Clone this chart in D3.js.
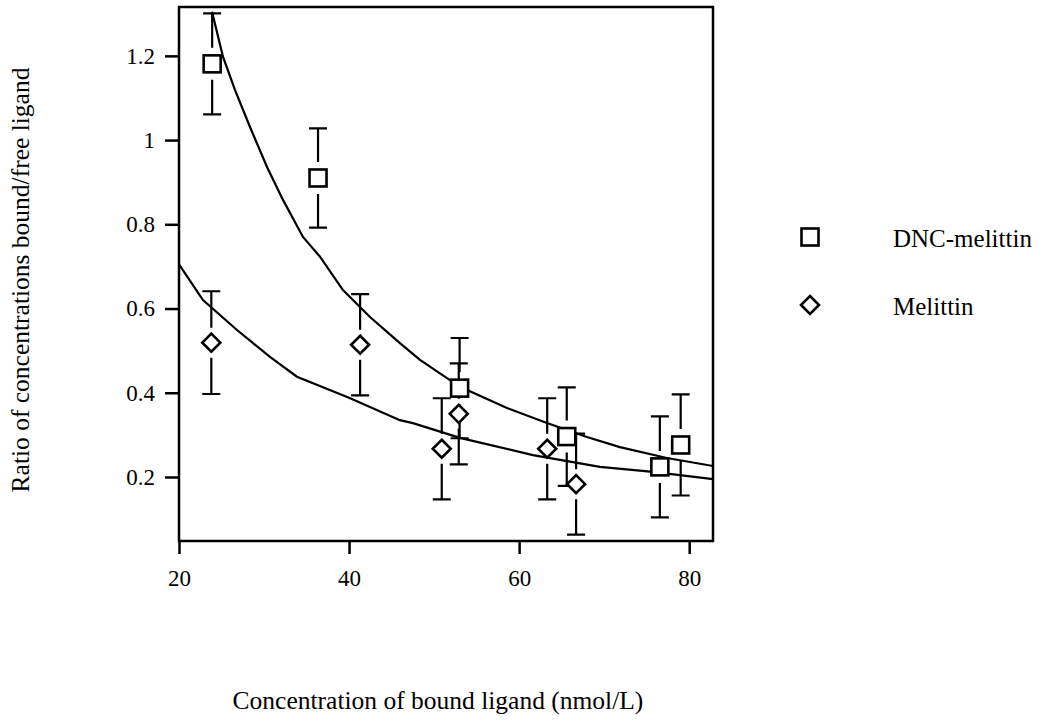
<!DOCTYPE html>
<html>
<head>
<meta charset="utf-8">
<script src="https://cdn.jsdelivr.net/npm/d3@7"></script>
<style>
  body { margin: 0; background: #fff; }
  svg text { font-family: "Liberation Serif", "DejaVu Serif", serif; fill: #000; }
</style>
</head>
<body>
<div class="chart"></div>
<script>
let dncX = [23.9, 36.35, 53.0, 65.6, 76.55, 79.0]
let dncY = [1.181, 0.910, 0.411, 0.296, 0.224, 0.276]
let dncErr = [0.12, 0.118, 0.119, 0.117, 0.12, 0.12]

let melX = [23.8, 41.3, 50.9, 52.9, 63.3, 66.7]
let melY = [0.519, 0.514, 0.267, 0.350, 0.267, 0.183]
let melErr = [0.122, 0.12, 0.12, 0.12, 0.12, 0.12]

// fitted curves, sampled from the figure
let dncCurveX = [23.88, 25.17, 26.58, 28.35, 30.35, 32.23, 34.58, 36.58, 39.28, 42.46, 45.98, 48.34, 53.04, 58.57, 63.27, 67.97, 71.85, 77.38, 82.8]
let dncCurveY = [1.305, 1.198, 1.119, 1.031, 0.936, 0.858, 0.770, 0.723, 0.644, 0.580, 0.518, 0.478, 0.414, 0.364, 0.328, 0.295, 0.271, 0.245, 0.226]
let melCurveX = [20, 22.82, 26.82, 30.70, 33.87, 39.99, 45.98, 47.51, 53.04, 61.62, 69.50, 75.73, 82.8]
let melCurveY = [0.705, 0.620, 0.549, 0.485, 0.438, 0.388, 0.335, 0.328, 0.293, 0.252, 0.224, 0.212, 0.195]

let xTicks = [20, 40, 60, 80]
let yTicks = [0.2, 0.4, 0.6, 0.8, 1, 1.2]
let seriesNames = ["DNC-melittin", "Melittin"]

let width = 1039, height = 721
let plotLeft = 179, plotRight = 713, plotTop = 7, plotBottom = 541
let tickFont = 23, legendFont = 25, titleFont = 25.5

let svg = d3.select(".chart")
    .append("svg")
    .attr("width", width)
    .attr("height", height)

let x = d3.scaleLinear().domain([20, 82.8]).range([plotLeft, plotRight])
let y = d3.scaleLinear().domain([0.048, 1.316]).range([plotBottom, plotTop])

// axes
svg.append("g")
    .attr("transform", `translate(0,${plotBottom})`)
    .call(d3.axisBottom(x).tickValues(xTicks).tickSize(13).tickPadding(16).tickFormat(d3.format("~g")))
svg.append("g")
    .attr("transform", `translate(${plotLeft},0)`)
    .call(d3.axisLeft(y).tickValues(yTicks).tickSize(14).tickPadding(10).tickFormat(d3.format("~g")))
svg.selectAll(".domain").remove()
svg.selectAll(".tick line").attr("stroke", "#000").attr("stroke-width", 2.5)
svg.selectAll(".tick text")
    .attr("font-size", tickFont)
    .attr("font-family", "Liberation Serif")
    .attr("fill", "#000")

// frame
svg.append("rect")
    .attr("x", plotLeft)
    .attr("y", plotTop)
    .attr("width", plotRight - plotLeft)
    .attr("height", plotBottom - plotTop)
    .attr("fill", "none")
    .attr("stroke", "#000")
    .attr("stroke-width", 2.5)

// curves
let plot = svg.append("g")
let line = d3.line().x(d => x(d[0])).y(d => y(d[1]))
plot.append("path")
    .attr("d", line(d3.zip(dncCurveX, dncCurveY)))
    .attr("fill", "none")
    .attr("stroke", "#000")
    .attr("stroke-width", 2.2)
plot.append("path")
    .attr("d", line(d3.zip(melCurveX, melCurveY)))
    .attr("fill", "none")
    .attr("stroke", "#000")
    .attr("stroke-width", 2.2)

// error bars, broken around the marker
function errorBars(xs, ys, errs, gap) {
    let g = plot.append("g").attr("stroke", "#000").attr("stroke-width", 2.2)
    xs.forEach((xv, i) => {
        let cx = x(xv), cy = y(ys[i])
        let yTop = y(ys[i] + errs[i]), yBot = y(ys[i] - errs[i])
        g.append("path").attr("d", `M${cx},${yTop} V${cy - gap} M${cx},${cy + gap} V${yBot}`)
        g.append("path").attr("d", `M${cx - 9},${yTop} H${cx + 9} M${cx - 9},${yBot} H${cx + 9}`)
    })
}
errorBars(dncX, dncY, dncErr, 16)
errorBars(melX, melY, melErr, 15)

let squareSize = 17
let diamondR = 9
function square(g, cx, cy) {
    g.append("rect")
        .attr("x", cx - squareSize / 2)
        .attr("y", cy - squareSize / 2)
        .attr("width", squareSize)
        .attr("height", squareSize)
        .attr("fill", "#fff")
        .attr("stroke", "#000")
        .attr("stroke-width", 2.6)
}
function diamond(g, cx, cy) {
    g.append("path")
        .attr("d", `M${cx},${cy - diamondR} L${cx + diamondR},${cy} L${cx},${cy + diamondR} L${cx - diamondR},${cy} Z`)
        .attr("fill", "#fff")
        .attr("stroke", "#000")
        .attr("stroke-width", 2.6)
}

let markers = plot.append("g")
dncX.forEach((xv, i) => square(markers, x(xv), y(dncY[i])))
melX.forEach((xv, i) => diamond(markers, x(xv), y(melY[i])))

// legend
let legend = svg.append("g")
square(legend, 810, 237)
diamond(legend, 810, 305)
legend.selectAll("text")
    .data(seriesNames)
    .enter()
    .append("text")
    .attr("x", 893)
    .attr("y", (d, i) => 238 + i * 68)
    .attr("dy", "0.35em")
    .attr("font-size", legendFont)
    .text(d => d)

// axis titles
svg.append("text")
    .attr("x", 438)
    .attr("y", 700)
    .attr("dy", "0.35em")
    .attr("text-anchor", "middle")
    .attr("font-size", titleFont)
    .text("Concentration of bound ligand (nmol/L)")
svg.append("text")
    .attr("transform", `translate(20,280) rotate(-90)`)
    .attr("dy", "0.35em")
    .attr("text-anchor", "middle")
    .attr("font-size", titleFont)
    .text("Ratio of concentrations bound/free ligand")
</script>
</body>
</html>
